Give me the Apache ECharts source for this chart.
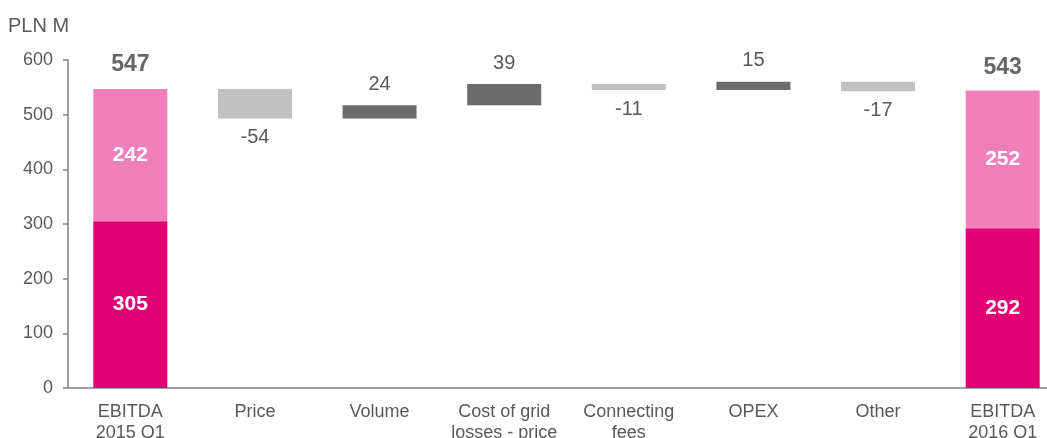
<!DOCTYPE html>
<html><head><meta charset="utf-8">
<script src="https://cdn.jsdelivr.net/npm/echarts@6/dist/echarts.min.js"></script>
<style>html,body{margin:0;padding:0;background:#fff}#c{width:1047px;height:438px}</style>
</head><body><div id="c"></div>
<script>
const categories = ['EBITDA\n2015 Q1', 'Price', 'Volume', 'Cost of grid\nlosses - price', 'Connecting\nfees', 'OPEX', 'Other', 'EBITDA\n2016 Q1'];
const lowerParts = [305, null, null, null, null, null, null, 292];
const upperParts = [242, null, null, null, null, null, null, 252];
const totals = [547, null, null, null, null, null, null, 543];
const deltas = [null, -54, 24, 39, -11, 15, -17, null];

const FONT = '"Liberation Sans", Arial, sans-serif';
const C_MAG = '#E20074', C_PINK = '#F07FBB', C_NEG = '#C1C1C1', C_POS = '#6B6B6B';

let running = totals[0];
const baseData = [], mainData = [];
for (let i = 0; i < categories.length; i++) {
  if (deltas[i] == null) {
    baseData.push(0);
    mainData.push({
      value: lowerParts[i],
      itemStyle: { color: C_MAG },
      label: { show: true, position: 'inside', color: '#fff', fontWeight: 'bold', fontSize: 21, fontFamily: FONT }
    });
  } else {
    const d = deltas[i];
    baseData.push(d < 0 ? running + d : running);
    mainData.push({
      value: Math.abs(d),
      itemStyle: { color: d < 0 ? C_NEG : C_POS },
      label: { show: true, position: d < 0 ? 'bottom' : 'top', distance: d < 0 ? 9 : 11,
        formatter: String(d), color: '#595959', fontSize: 20, fontFamily: FONT }
    });
    running += d;
  }
}

const chart = echarts.init(document.getElementById('c'), null, { renderer: 'canvas' });
chart.setOption({
  animation: false,
  textStyle: { fontFamily: FONT },
  graphic: [{ type: 'text', left: 8, top: 16, style: { text: 'PLN M', fontSize: 20, fill: '#595959', fontFamily: FONT } }],
  grid: { left: 68, top: 60, width: 997, height: 328, containLabel: false, outerBoundsMode: 'none' },
  xAxis: {
    type: 'category', data: categories,
    axisLine: { lineStyle: { color: '#808080', width: 1.5 } },
    axisTick: { show: false },
    axisLabel: { color: '#595959', fontSize: 18, lineHeight: 21, margin: 14, interval: 0, fontFamily: FONT }
  },
  yAxis: {
    type: 'value', min: 0, max: 600, interval: 100,
    axisLine: { show: true, lineStyle: { color: '#808080', width: 1.5 } },
    axisTick: { show: true, length: 5, lineStyle: { color: '#808080', width: 1.5 } },
    axisLabel: { color: '#595959', fontSize: 18, margin: 15, fontFamily: FONT },
    splitLine: { show: false }
  },
  series: [
    { type: 'bar', stack: 'w', barWidth: 74, data: baseData, itemStyle: { color: 'rgba(0,0,0,0)' }, silent: true },
    { type: 'bar', stack: 'w', barWidth: 74, data: mainData },
    { type: 'bar', stack: 'w', barWidth: 74,
      data: upperParts.map(v => v == null ? '-' : v),
      itemStyle: { color: C_PINK },
      label: { show: true, position: 'inside', color: '#fff', fontWeight: 'bold', fontSize: 21, fontFamily: FONT } },
    { type: 'scatter', symbolSize: 1, itemStyle: { color: 'rgba(0,0,0,0)' },
      data: totals.map(v => v == null ? '-' : v),
      label: { show: true, position: 'top', distance: 12, color: '#404040', fontWeight: 'bold', fontSize: 23, fontFamily: FONT } }
  ]
});
</script></body></html>
